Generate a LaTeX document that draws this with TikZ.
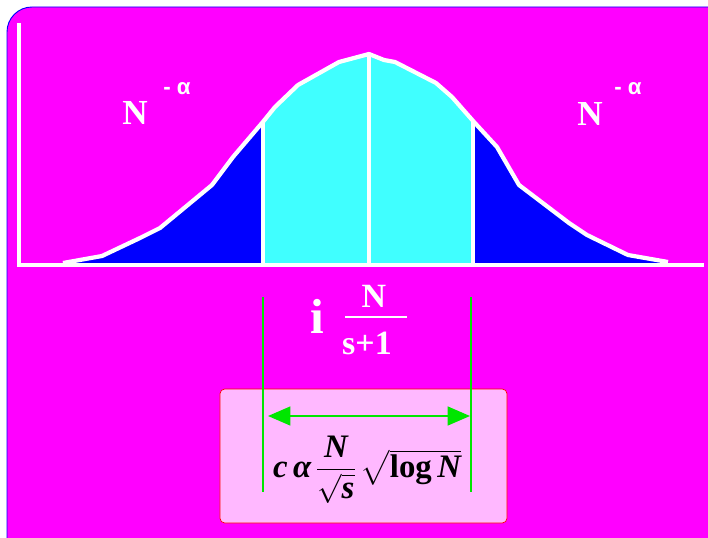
\documentclass[tikz,border=0pt]{standalone}
\usepackage{amsmath}
\usepackage{fontspec}
\setmainfont{Liberation Serif}
\newfontfamily\labelsans{Liberation Sans}
\usetikzlibrary{arrows.meta, positioning}

\definecolor{slidebg}{HTML}{FF00FF}
\definecolor{tailblue}{HTML}{0000FF}
\definecolor{bodycyan}{HTML}{40FFFF}
\definecolor{boxpink}{HTML}{FFB8FF}
\definecolor{markgreen}{HTML}{00E600}

\newcommand{\bellcurve}{(63,263) -- (102,256) -- (140,238) -- (160,228) -- (212,185) -- (233,157) -- (262,123) -- (275,107) -- (298,85) -- (339,62) -- (369,54) -- (384,60) -- (395,62) -- (436,83) -- (452,97) -- (474,122) -- (497,147) -- (519,185) -- (569,223) -- (587,235) -- (628,255) -- (668,262)}

\begin{document}
\begin{tikzpicture}[x=0.03cm, y=-0.03cm,
    axisline/.style={white, line width=2.6pt},
    bellline/.style={white, line width=3.6pt, line join=round},
    cutline/.style={white, line width=2.6pt},
    guide/.style={markgreen, line width=1.3pt},
    span/.style={{Triangle[length=19pt,width=16pt]}-{Triangle[length=19pt,width=16pt]},
                 markgreen, line width=1.6pt},
    lbl/.style={white, inner sep=0pt},
    bandbox/.style={rectangle, draw=red, line width=0.6pt, fill=boxpink, rounded corners=4pt,
                    minimum width=8.61cm, minimum height=4.02cm},
]
\useasboundingbox (0,0) rectangle (708,537);
\fill[white] (0,0) rectangle (708,537);
\draw[blue, line width=0.8pt, fill=slidebg, rounded corners=0.75cm] (7,7) rectangle (740,570);

% tails and body of the curve
\fill[tailblue] \bellcurve -- (668,265) -- (63,265) -- cycle;
\begin{scope}
  \clip (262,0) rectangle (473,300);
  \fill[bodycyan] \bellcurve -- (668,265) -- (63,265) -- cycle;
\end{scope}
\draw[bellline] \bellcurve;

\coordinate (origin) at (19,265);
\coordinate (ytop)   at (19,23);
\coordinate (xend)   at (704,265);
\draw[axisline] (ytop) -- (origin) -- (xend);

\coordinate (cutLtop) at (263,123);
\coordinate (cutLbot) at (263,265);
\coordinate (cutCtop) at (369,54);
\coordinate (cutCbot) at (369,265);
\coordinate (cutRtop) at (473,121);
\coordinate (cutRbot) at (473,265);
\draw[cutline] (cutLtop) -- (cutLbot);
\draw[cutline] (cutCtop) -- (cutCbot);
\draw[cutline] (cutRtop) -- (cutRbot);

% tail labels
\node[lbl, font=\fontsize{30}{32}\selectfont\bfseries] (tailL) at (135,113) {N};
\node[lbl, font=\fontsize{19}{21}\selectfont\labelsans\bfseries] (expL) at (177,89) {- α};
\node[lbl, font=\fontsize{30}{32}\selectfont\bfseries] (tailR) at (590,114) {N};
\node[lbl, font=\fontsize{19}{21}\selectfont\labelsans\bfseries] (expR) at (628,89) {- α};

% width of the centre
\node[lbl, font=\fontsize{42}{44}\selectfont\bfseries] (idx) at (317,316) {i};
\node[lbl, font=\fontsize{29}{31}\selectfont\bfseries] (fnum) at (374,296) {N};
\node[lbl, font=\fontsize{29}{31}\selectfont\bfseries] (fden) at (367,343) {s+1};
\coordinate (barL) at (345,317);
\coordinate (barR) at (407,317);
\draw[white, line width=1.6pt] (barL) -- (barR);

% box with the band
\node[bandbox] (band) at (363.5,456) {};
\node[inner sep=0pt, font=\fontsize{28}{32}\selectfont] (bandexpr) at (367,470)
  {$\text{\bfseries\itshape c\,α}\,\genfrac{}{}{0.9pt}{0}{\text{\bfseries\itshape N}}{\sqrt{\text{\bfseries\itshape s}}}\,\sqrt{\text{\bfseries log\,\itshape N}}$};

\coordinate (gLtop) at (263,297);
\coordinate (gLbot) at (263,492);
\coordinate (gRtop) at (471,297);
\coordinate (gRbot) at (471,492);
\draw[guide] (gLtop) -- (gLbot);
\draw[guide] (gRtop) -- (gRbot);
\coordinate (spanL) at (268,416);
\coordinate (spanR) at (470,416);
\draw[span] (spanL) -- (spanR);
\end{tikzpicture}
\end{document}
